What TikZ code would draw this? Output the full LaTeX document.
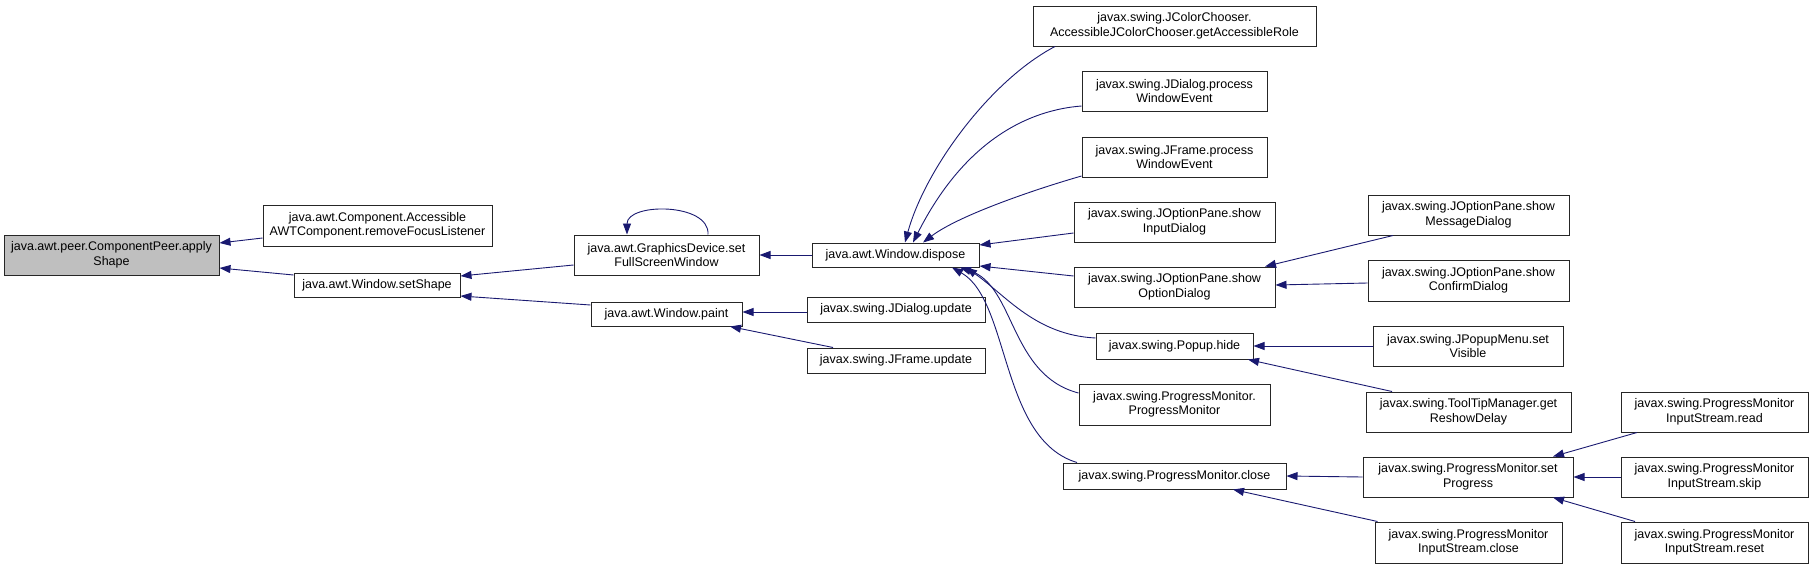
\documentclass[tikz,border=0pt]{standalone}
\usepackage{fontspec}
\setmainfont{Liberation Sans}
\usetikzlibrary{arrows.meta}
\definecolor{edgeblue}{RGB}{25,25,112}
\definecolor{hilite}{RGB}{191,191,191}
\begin{document}
\begin{tikzpicture}[x=1pt,y=-1pt,
  box/.style={draw=black!85, line width=1pt, fill=white, inner sep=0pt, align=center,
    font=\fontsize{12.5}{14.5}\selectfont, minimum height=40pt},
  sbox/.style={box, minimum height=25pt},
  edge/.style={draw=edgeblue, line width=0.9pt, -{Triangle[length=11pt,width=8pt]}}]
\useasboundingbox (0,0) rectangle (1813,568);
% nodes
\node[box, fill=hilite, minimum width=215pt] (apply) at (111.5,255) {java.awt.peer.ComponentPeer.apply\\Shape};
\node[box, minimum width=229pt, minimum height=41pt] (awtcomp) at (377.5,225.5) {java.awt.Component.Accessible\\AWTComponent.removeFocusListener};
\node[sbox, minimum width=166pt, minimum height=24pt] (setshape) at (377,285) {java.awt.Window.setShape};
\node[box, minimum width=185pt] (gdev) at (666.5,255) {java.awt.GraphicsDevice.set\\FullScreenWindow};
\node[sbox, minimum width=151pt, minimum height=24pt] (paint) at (666.5,314) {java.awt.Window.paint};
\node[sbox, minimum width=167pt, minimum height=24pt] (dispose) at (895.5,255) {java.awt.Window.dispose};
\node[sbox, minimum width=178pt] (jdupdate) at (896,309.5) {javax.swing.JDialog.update};
\node[sbox, minimum width=178pt] (jfupdate) at (896,360.5) {javax.swing.JFrame.update};
\node[box, minimum width=283pt] (jcc) at (1174.5,26) {javax.swing.JColorChooser.\\AccessibleJColorChooser.getAccessibleRole};
\node[box, minimum width=185pt] (jdpwe) at (1174.5,91) {javax.swing.JDialog.process\\WindowEvent};
\node[box, minimum width=185pt] (jfpwe) at (1174.5,157) {javax.swing.JFrame.process\\WindowEvent};
\node[box, minimum width=201pt] (input) at (1174.5,222) {javax.swing.JOptionPane.show\\InputDialog};
\node[box, minimum width=201pt] (option) at (1174.5,287) {javax.swing.JOptionPane.show\\OptionDialog};
\node[sbox, minimum width=157pt, minimum height=26pt] (hide) at (1174.5,346) {javax.swing.Popup.hide};
\node[box, minimum width=191pt, minimum height=41pt] (pmpm) at (1174.5,404.5) {javax.swing.ProgressMonitor.\\ProgressMonitor};
\node[sbox, minimum width=223pt, minimum height=26pt] (pmclose) at (1174.5,476) {javax.swing.ProgressMonitor.close};
\node[box, minimum width=201pt] (msg) at (1468.5,215) {javax.swing.JOptionPane.show\\MessageDialog};
\node[box, minimum width=201pt, minimum height=41pt] (confirm) at (1468.5,280.5) {javax.swing.JOptionPane.show\\ConfirmDialog};
\node[box, minimum width=190pt] (popupmenu) at (1468,346) {javax.swing.JPopupMenu.set\\Visible};
\node[box, minimum width=205pt] (tooltip) at (1468.5,412) {javax.swing.ToolTipManager.get\\ReshowDelay};
\node[box, minimum width=210pt] (setprog) at (1468,477) {javax.swing.ProgressMonitor.set\\Progress};
\node[box, minimum width=187pt, minimum height=41pt] (pmisclose) at (1468.5,542.5) {javax.swing.ProgressMonitor\\InputStream.close};
\node[box, minimum width=187pt] (read) at (1714.5,412) {javax.swing.ProgressMonitor\\InputStream.read};
\node[box, minimum width=187pt] (skip) at (1714.5,477) {javax.swing.ProgressMonitor\\InputStream.skip};
\node[box, minimum width=187pt, minimum height=41pt] (reset) at (1714.5,542.5) {javax.swing.ProgressMonitor\\InputStream.reset};
% edges
\draw[edge] ([yshift=-12.5pt]awtcomp.west) -- ([yshift=12pt]apply.east);
\draw[edge] ([yshift=10pt]setshape.west) -- ([yshift=-13pt]apply.east);
\draw[edge] ([yshift=-10pt]gdev.west) -- ([yshift=9pt]setshape.east);
\draw[edge] ([yshift=9pt]paint.west) -- ([yshift=-11pt]setshape.east);
\draw[edge] ([xshift=41.5pt]gdev.north) .. controls +(2,-32) and +(0,-32) .. ([xshift=-39.5pt]gdev.north);
\draw[edge] (dispose.west) -- (gdev.east);
\draw[edge] ([yshift=-2.5pt]jdupdate.west) -- ([yshift=2pt]paint.east);
\draw[edge] ([xshift=-63pt]jfupdate.north) -- ([xshift=63.5pt]paint.south);
\draw[edge] ([xshift=-119.5pt]jcc.south) .. controls +(-65,34) and +(20,-73) .. ([xshift=9.5pt]dispose.north);
\draw[edge] ([yshift=-15pt]jdpwe.west) .. controls +(-52,4) and +(52,-103) .. ([xshift=17.5pt]dispose.north);
\draw[edge] ([yshift=-19pt]jfpwe.west) .. controls +(-42,12) and +(37,-28) .. ([xshift=27.5pt]dispose.north);
\draw[edge] ([yshift=-11pt]input.west) -- ([yshift=10pt]dispose.east);
\draw[edge] ([yshift=11pt]option.west) -- ([yshift=-11pt]dispose.east);
\draw[edge] ([yshift=8pt]hide.west) .. controls +(-60,-3) and +(40,28) .. ([xshift=70.5pt]dispose.south);
\draw[edge] ([yshift=11.5pt]pmpm.west) .. controls +(-69,-18) and +(55,18) .. ([xshift=64.5pt]dispose.south);
\draw[edge] ([xshift=-97.5pt]pmclose.north) .. controls +(-77,-23) and +(58,33) .. ([xshift=56.5pt]dispose.south);
\draw[edge] ([xshift=-75.5pt]msg.south) -- ([xshift=90.5pt]option.north);
\draw[edge] ([yshift=-2.5pt]confirm.west) -- ([yshift=2pt]option.east);
\draw[edge] (popupmenu.west) -- (hide.east);
\draw[edge] ([xshift=-76.5pt]tooltip.north) -- ([xshift=73.5pt]hide.south);
\draw[edge] (setprog.west) -- (pmclose.east);
\draw[edge] ([xshift=3pt]pmisclose.north west) -- ([xshift=58.5pt]pmclose.south);
\draw[edge] ([xshift=-77.5pt]read.south) -- ([xshift=85pt]setprog.north);
\draw[edge] (skip.west) -- (setprog.east);
\draw[edge] ([xshift=-79.5pt]reset.north) -- ([xshift=85pt]setprog.south);
\end{tikzpicture}
\end{document}
